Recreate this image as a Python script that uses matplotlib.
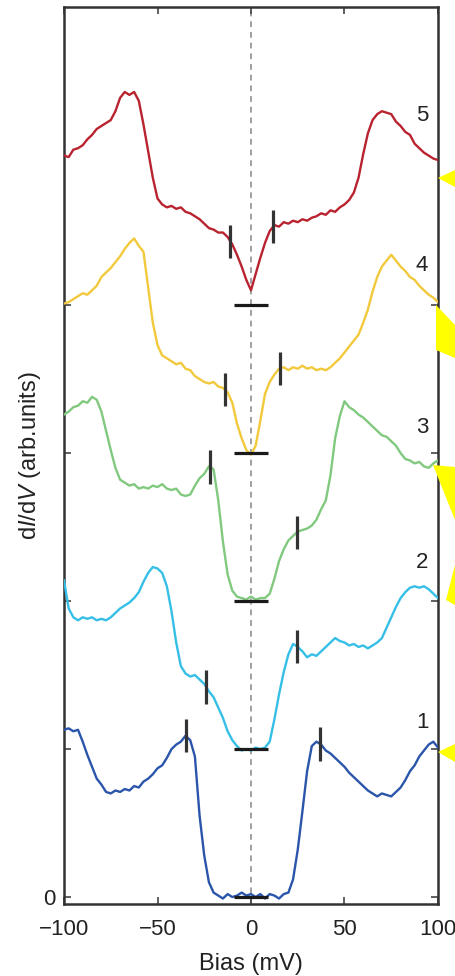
import matplotlib
matplotlib.use("Agg")
import matplotlib.pyplot as plt
import numpy as np
from matplotlib.patches import Polygon

plt.rcParams['font.family'] = ['Liberation Sans', 'DejaVu Sans']
plt.rcParams['mathtext.fontset'] = 'custom'
plt.rcParams['mathtext.it'] = 'Liberation Sans:italic'
plt.rcParams['mathtext.rm'] = 'Liberation Sans'

# bias sampling (mV) shared by all spectra
bias = [-100, -97.5, -95, -92.5, -90, -87.5, -85, -82.5, -80, -77.5, -75, -72.5, -70, -67.5, -65, -62.5,
        -60, -57.5, -55, -52.5, -50, -47.5, -45, -42.5, -40, -37.5, -35, -32.5, -30, -27.5, -25, -22.5,
        -20, -17.5, -15, -12.5, -10, -7.5, -5, -2.5, 0, 2.5, 5, 7.5, 10, 12.5, 15, 17.5,
        20, 22.5, 25, 27.5, 30, 32.5, 35, 37.5, 40, 42.5, 45, 47.5, 50, 52.5, 55, 57.5,
        60, 62.5, 65, 67.5, 70, 72.5, 75, 77.5, 80, 82.5, 85, 87.5, 90, 92.5, 95, 97.5, 100]

# dI/dV, relative to each curve's own baseline
dos1 = [1.13, 1.14, 1.12, 1.13, 1.05, 0.96, 0.88, 0.80, 0.76, 0.71, 0.70, 0.72, 0.71, 0.73, 0.72, 0.75,
        0.74, 0.78, 0.80, 0.83, 0.87, 0.89, 0.94, 1.00, 1.03, 1.05, 1.09, 1.06, 0.95, 0.55, 0.28, 0.10,
        0.03, 0.01, -0.01, 0.02, 0.00, 0.01, 0.03, 0.01, 0.02, 0.00, 0.02, -0.01, 0.02, 0.01, -0.01, 0.02,
        0.03, 0.12, 0.32, 0.58, 0.85, 1.02, 1.05, 1.03, 0.99, 0.97, 0.94, 0.91, 0.88, 0.84, 0.81, 0.78,
        0.75, 0.72, 0.70, 0.68, 0.70, 0.69, 0.68, 0.71, 0.74, 0.79, 0.85, 0.89, 0.95, 0.99, 1.03, 1.05, 1.01]

dos2 = [1.14, 0.95, 0.89, 0.87, 0.89, 0.88, 0.89, 0.87, 0.88, 0.87, 0.89, 0.92, 0.95, 0.97, 0.99, 1.02,
        1.06, 1.13, 1.19, 1.23, 1.22, 1.19, 1.10, 0.93, 0.72, 0.56, 0.51, 0.49, 0.50, 0.47, 0.44, 0.39,
        0.35, 0.28, 0.21, 0.12, 0.06, 0.02, -0.01, 0.00, -0.01, 0.01, 0.00, 0.01, 0.05, 0.20, 0.37, 0.52,
        0.64, 0.71, 0.69, 0.66, 0.62, 0.64, 0.63, 0.66, 0.69, 0.72, 0.75, 0.73, 0.72, 0.70, 0.71, 0.69,
        0.70, 0.68, 0.70, 0.72, 0.75, 0.82, 0.89, 0.96, 1.02, 1.06, 1.09, 1.10, 1.09, 1.10, 1.08, 1.05, 1.02]

dos3 = [1.26, 1.28, 1.31, 1.32, 1.35, 1.34, 1.38, 1.36, 1.28, 1.15, 1.02, 0.90, 0.82, 0.80, 0.78, 0.79,
        0.76, 0.77, 0.76, 0.78, 0.77, 0.79, 0.76, 0.75, 0.76, 0.72, 0.71, 0.72, 0.78, 0.83, 0.86, 0.91,
        0.89, 0.68, 0.40, 0.18, 0.07, 0.03, 0.02, 0.01, 0.03, 0.01, 0.02, 0.02, 0.05, 0.15, 0.27, 0.35,
        0.41, 0.44, 0.47, 0.48, 0.49, 0.51, 0.55, 0.62, 0.68, 0.85, 1.10, 1.25, 1.35, 1.31, 1.29, 1.26,
        1.24, 1.21, 1.18, 1.15, 1.12, 1.11, 1.08, 1.05, 1.00, 0.96, 0.95, 0.93, 0.94, 0.91, 0.90, 0.93, 0.95]

dos4 = [1.01, 1.02, 1.04, 1.06, 1.08, 1.07, 1.10, 1.13, 1.19, 1.22, 1.25, 1.29, 1.33, 1.38, 1.42, 1.45,
        1.40, 1.36, 1.12, 0.88, 0.73, 0.66, 0.64, 0.62, 0.60, 0.61, 0.57, 0.56, 0.52, 0.50, 0.48, 0.47,
        0.48, 0.45, 0.44, 0.41, 0.34, 0.20, 0.10, 0.02, -0.01, 0.05, 0.22, 0.40, 0.48, 0.53, 0.57, 0.58,
        0.56, 0.58, 0.57, 0.59, 0.57, 0.58, 0.56, 0.57, 0.56, 0.58, 0.61, 0.64, 0.68, 0.72, 0.76, 0.80,
        0.88, 0.97, 1.09, 1.19, 1.26, 1.30, 1.34, 1.30, 1.26, 1.23, 1.19, 1.17, 1.13, 1.10, 1.07, 1.05, 1.02]

dos5 = [1.01, 1.00, 1.05, 1.06, 1.08, 1.12, 1.15, 1.19, 1.21, 1.23, 1.25, 1.31, 1.40, 1.44, 1.42, 1.44,
        1.38, 1.22, 1.04, 0.86, 0.72, 0.68, 0.66, 0.67, 0.65, 0.66, 0.63, 0.62, 0.60, 0.58, 0.55, 0.52,
        0.51, 0.49, 0.49, 0.46, 0.41, 0.34, 0.26, 0.17, 0.10, 0.21, 0.32, 0.42, 0.50, 0.54, 0.53, 0.56,
        0.55, 0.57, 0.56, 0.58, 0.57, 0.59, 0.60, 0.62, 0.61, 0.64, 0.63, 0.66, 0.68, 0.71, 0.76, 0.86,
        1.02, 1.16, 1.25, 1.29, 1.31, 1.30, 1.29, 1.24, 1.21, 1.17, 1.15, 1.09, 1.06, 1.03, 1.01, 0.99, 0.98]

offsets = [0, 1, 2, 3, 4]
curve_labels = ['1', '2', '3', '4', '5']
label_y = [1.18, 2.26, 3.17, 4.27, 5.28]
colors = ['#2a55ab', '#36bfe6', '#80c97e', '#f2c93c', '#b8232f']

# gap edges marked with short vertical bars
gap_left = [-35, -24, -22, -14, -11]
gap_right = [37, 24.5, 24.5, 15.5, 12]
bar_halfwidth = 9

spectra = [dos1, dos2, dos3, dos4, dos5]

fig = plt.figure(figsize=(4.55, 9.76), dpi=100)
ax = fig.add_axes([64 / 455, 72 / 976, 374 / 455, 897 / 976])

ax.axvline(0, color='#a0a0a0', lw=1.4, ls=(0, (3, 2.5)), zorder=1)

for d, off, c, lab, ly in zip(spectra, offsets, colors, curve_labels, label_y):
    ax.plot(bias, np.array(d) + off, color=c, lw=1.7, zorder=3)
    ax.text(91.5, ly, lab, fontsize=16, color='#222222', ha='center', va='center')

for d, off, gl, gr in zip(spectra, offsets, gap_left, gap_right):
    for gx in (gl, gr):
        gy = np.interp(gx, bias, d) + off
        ax.plot([gx, gx], [gy - 0.113, gy + 0.113], color='#333333', lw=2.3, zorder=4, solid_capstyle='butt')
    ax.plot([-bar_halfwidth, bar_halfwidth], [off, off], color='#1a1a1a', lw=2.3, zorder=4, solid_capstyle='butt')

ax.set_xlim(-100, 100)
ax.set_ylim(-0.047, 6.014)
ax.set_xticks([-100, -50, 0, 50, 100])
ax.set_yticks([0, 1, 2, 3, 4])
ax.set_yticklabels(['0', '', '', '', ''])
ax.tick_params(direction='in', length=5, width=1.2, color='#444444', labelsize=16,
               top=True, right=True, labelcolor='#222222')
ax.tick_params(axis='x', pad=11)
ax.tick_params(axis='y', pad=6)
for s in ax.spines.values():
    s.set_color('#333333')
    s.set_linewidth(1.8)

ax.set_xlabel('Bias (mV)', fontsize=17, color='#222222', labelpad=9)
ax.set_ylabel(r'd$I$/d$V$ (arb.units)', fontsize=17, color='#222222', labelpad=0)

# yellow arrow heads cut off at the right edge of the original figure
arrow_shapes = [
    [(438, 178), (455, 170), (455, 187)],
    [(436, 305), (455, 325), (455, 358), (436, 350)],
    [(433, 465), (455, 467), (455, 520)],
    [(446, 600), (455, 565), (455, 605)],
    [(438, 752), (455, 744), (455, 762)],
]
for pts in arrow_shapes:
    fp = [(px / 455, 1 - py / 976) for px, py in pts]
    fig.patches.append(Polygon(fp, closed=True, transform=fig.transFigure, facecolor='#ffff00',
                               edgecolor='none', zorder=10))

fig.savefig('out.png', dpi=100)
